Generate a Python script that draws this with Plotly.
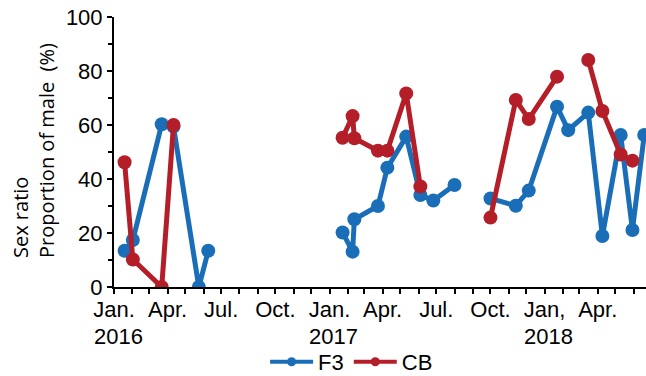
import plotly.graph_objects as go

# ---- data ----
f3_dates = ["2016-01-19", "2016-02-02", "2016-03-22", "2016-04-11", "2016-05-24", "2016-06-09", None,
            "2017-01-23", "2017-02-09", "2017-02-12", "2017-03-24", "2017-04-09", "2017-05-11",
            "2017-06-04", "2017-06-26", "2017-08-01", None,
            "2017-10-01", "2017-11-13", "2017-12-05", "2018-01-22", "2018-02-10", "2018-03-16",
            "2018-04-09", "2018-05-10", "2018-05-30", "2018-06-19"]
f3_values = [13.4, 17.4, 60.3, 59.4, 0, 13.4, None,
             20.2, 13.1, 25.1, 30.0, 44.2, 55.7, 34.1, 32.0, 37.8, None,
             32.8, 30.1, 35.7, 66.8, 58.1, 64.6, 18.9, 56.3, 21.1, 56.3]

cb_dates = ["2016-01-19", "2016-02-02", "2016-03-22", "2016-04-11", None,
            "2017-01-23", "2017-02-09", "2017-02-12", "2017-03-24", "2017-04-09", "2017-05-11",
            "2017-06-04", None,
            "2017-10-01", "2017-11-13", "2017-12-05", "2018-01-22", None,
            "2018-03-16", "2018-04-09", "2018-05-10", "2018-05-30"]
cb_values = [46.2, 10.2, 0, 60.0, None,
             55.3, 63.3, 55.1, 50.5, 50.5, 71.7, 37.2, None,
             25.7, 69.3, 62.2, 77.9, None,
             84.1, 65.2, 49.1, 46.8]

month_ticks = ["2016-%02d-01" % m for m in range(1, 13)] + \
              ["2017-%02d-01" % m for m in range(1, 13)] + \
              ["2018-%02d-01" % m for m in range(1, 7)]
month_labels = ["Jan.", "", "", "Apr.", "", "", "Jul.", "", "", "Oct.", "", "",
                "Jan.", "", "", "Apr.", "", "", "Jul.", "", "", "Oct.", "", "",
                "Jan,", "", "", "Apr.", "", ""]
year_dates = ["2016-01-01", "2017-01-01", "2018-01-01"]
year_labels = ["2016", "2017", "2018"]

series_names = ["F3", "CB"]
BLUE = "#1a6eb8"
RED = "#b41e28"

fig = go.Figure()
for name, xs, ys, col in [(series_names[0], f3_dates, f3_values, BLUE),
                          (series_names[1], cb_dates, cb_values, RED)]:
    fig.add_trace(go.Scatter(x=xs, y=ys, mode="lines+markers", name=name, showlegend=False,
                             line=dict(color=col, width=5), marker=dict(color=col, size=14),
                             connectgaps=False))
for name, col in [(series_names[0], BLUE), (series_names[1], RED)]:
    fig.add_trace(go.Scatter(x=[None], y=[None], mode="lines+markers", name=name,
                             line=dict(color=col, width=4), marker=dict(color=col, size=9)))

tick_font = dict(family="Liberation Sans, Arial, sans-serif", size=22, color="black")

fig.update_layout(
    width=646, height=376,
    margin=dict(l=114, r=0, t=17, b=89, autoexpand=False),
    plot_bgcolor="white", paper_bgcolor="white",
    font=tick_font,
    showlegend=True,
    legend=dict(orientation="h", x=0.284, xanchor="left",
                yref="container", y=1 - 362 / 376, yanchor="middle",
                itemwidth=43,
                font=dict(family="Liberation Sans, Arial, sans-serif", size=22, color="black"),
                bgcolor="rgba(0,0,0,0)"),
)
fig.update_xaxes(type="date", range=["2016-01-01", "2018-06-22"],
                 tickmode="array", tickvals=month_ticks, ticktext=month_labels,
                 ticks="outside", ticklen=5, tickwidth=1.5, tickcolor="black",
                 ticklabelstandoff=-3,
                 showline=True, linecolor="black", linewidth=2, showgrid=False, zeroline=False,
                 tickfont=tick_font, tickangle=0)
fig.update_yaxes(range=[0, 100], dtick=20, ticks="outside", ticklen=5, tickwidth=1.5, tickcolor="black",
                 minor=dict(dtick=10, ticks="outside", ticklen=4, tickwidth=1.5, tickcolor="black", showgrid=False),
                 showline=True, linecolor="black", linewidth=2, showgrid=False, zeroline=False,
                 tickfont=tick_font)

for d, lab in zip(year_dates, year_labels):
    fig.add_annotation(x=d, xref="x", y=-0.185, yref="paper", text=lab, showarrow=False,
                       xanchor="center", yanchor="middle", xshift=4, font=tick_font)

fig.add_annotation(x=(33.5 - 114) / 532, xref="paper", y=(287 - 260) / 270, yref="paper",
                   text="Sex ratio<br>Proportion of male\u00a0 (%)", textangle=-90, align="left",
                   showarrow=False, xanchor="center", yanchor="bottom",
                   font=dict(family="Open Sans, sans-serif", size=20, color="black"))

fig.write_html("out.html")
